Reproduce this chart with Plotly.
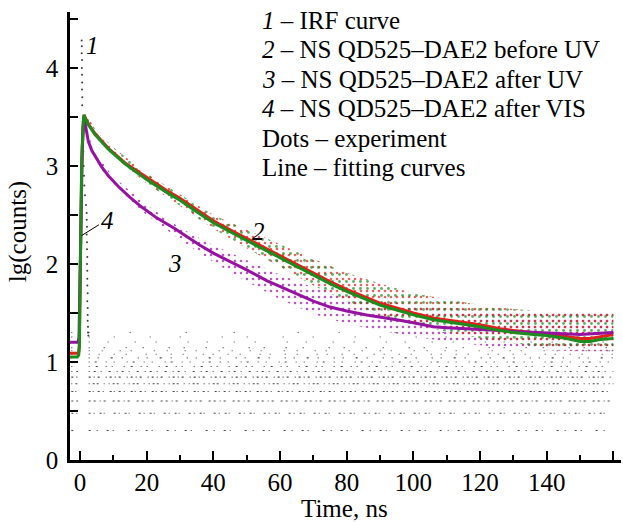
import numpy as np
import plotly.graph_objects as go

# ---------------- data ----------------
# fitting curves, lg(counts) vs time (ns)
t_before_uv = [-3, -0.8, -0.4, -0.2, 0.0, 0.2, 0.5, 0.9, 1.2, 1.6, 2.5, 4.5, 8.5, 13.5, 20, 26, 30, 36, 40, 46, 50,
               56, 60, 66, 70, 75, 80, 86, 90, 95, 100, 106, 110, 117, 120, 126, 130, 136, 140, 146, 150, 153, 156, 160]
lg_before_uv = [1.09, 1.09, 1.10, 1.17, 1.7, 2.4, 3.0, 3.4, 3.52, 3.49, 3.43, 3.33, 3.18, 3.03, 2.88, 2.75, 2.67,
                2.53, 2.44, 2.33, 2.26, 2.15, 2.08, 1.98, 1.91, 1.82, 1.74, 1.66, 1.60, 1.55, 1.50, 1.45, 1.43,
                1.40, 1.38, 1.34, 1.32, 1.30, 1.29, 1.26, 1.24, 1.24, 1.26, 1.28]

t_after_vis = [-3, -0.8, -0.4, -0.2, 0.0, 0.2, 0.5, 0.9, 1.2, 1.6, 2.5, 4.5, 8.5, 13.5, 20, 26, 30, 36, 40, 46, 50,
               56, 60, 66, 70, 75, 80, 86, 90, 95, 100, 106, 110, 117, 120, 126, 130, 136, 140, 146, 150, 153, 156, 160]
lg_after_vis = [1.05, 1.05, 1.07, 1.15, 1.7, 2.4, 3.0, 3.4, 3.52, 3.48, 3.42, 3.32, 3.17, 3.02, 2.86, 2.73, 2.65,
                2.51, 2.42, 2.31, 2.24, 2.13, 2.06, 1.96, 1.89, 1.80, 1.72, 1.64, 1.58, 1.53, 1.48, 1.43, 1.41,
                1.38, 1.36, 1.32, 1.30, 1.28, 1.27, 1.24, 1.21, 1.21, 1.23, 1.24]

t_after_uv = [-3, -0.6, -0.3, 0.0, 0.3, 0.7, 1.2, 1.6, 2.0, 2.5, 3.5, 5, 6.5, 8.5, 11.5, 15, 18.5, 23, 28.5, 32, 36,
              40, 46, 50, 56, 60, 66, 70, 75, 80, 86, 90, 95, 100, 106, 110, 117, 120, 126, 130, 136, 140, 146, 150,
              155, 160]
lg_after_uv = [1.20, 1.20, 1.25, 1.8, 2.5, 3.2, 3.50, 3.42, 3.33, 3.25, 3.16, 3.07, 2.99, 2.90, 2.79, 2.68, 2.58,
               2.47, 2.36, 2.28, 2.19, 2.11, 2.01, 1.94, 1.83, 1.77, 1.68, 1.62, 1.56, 1.52, 1.48, 1.46, 1.43, 1.40,
               1.36, 1.35, 1.34, 1.33, 1.32, 1.31, 1.30, 1.30, 1.29, 1.28, 1.29, 1.30]

# experimental-dot clouds: upper / lower envelopes
t_dots_vis = [1.5, 5, 10, 20, 30, 40, 50, 60, 70, 80, 90, 100, 110, 120, 130, 140, 150, 160]
hi_dots_vis = [3.55, 3.35, 3.19, 2.92, 2.71, 2.50, 2.35, 2.20, 2.05, 1.91, 1.80, 1.70, 1.64, 1.58, 1.54, 1.51, 1.50, 1.50]
lo_dots_vis = [3.49, 3.28, 3.10, 2.82, 2.59, 2.36, 2.16, 1.97, 1.78, 1.62, 1.48, 1.38, 1.31, 1.24, 1.19, 1.15, 1.12, 1.12]

t_dots_uv = [1.5, 3, 5, 10, 20, 30, 40, 50, 60, 70, 80, 90, 100, 110, 120, 130, 140, 150, 160]
hi_dots_uv = [3.48, 3.27, 3.11, 2.89, 2.60, 2.37, 2.19, 2.04, 1.89, 1.76, 1.68, 1.62, 1.58, 1.55, 1.53, 1.52, 1.51, 1.51, 1.51]
lo_dots_uv = [3.40, 3.18, 3.03, 2.80, 2.50, 2.25, 2.02, 1.82, 1.64, 1.49, 1.39, 1.32, 1.26, 1.21, 1.17, 1.14, 1.12, 1.11, 1.11]

# IRF (curve 1): spike points
t_irf = [0.5, 0.55, 0.5, 0.6, 0.55, 0.6, 0.65, 0.6, 0.7, 0.65, 0.8, 0.9, 1.0, 1.1, 1.2, 1.3, 1.5, 1.8, 2.0, 2.0, 2.1,
         2.0, 2.1, 2.1, 2.2, 2.1, 2.2, 2.2, 2.2, 2.3, 2.2, 2.3, 2.3, 2.3, 2.4, 2.4, 2.5]
lg_irf = [4.28, 4.22, 4.15, 4.08, 4.00, 3.93, 3.85, 3.78, 3.70, 3.62, 3.45, 3.30, 3.15, 3.00, 2.90, 2.80, 2.70, 2.60,
          2.52, 2.45, 2.38, 2.30, 2.22, 2.15, 2.07, 2.00, 1.93, 1.85, 1.78, 1.70, 1.62, 1.55, 1.48, 1.42, 1.36, 1.30,
          1.27]
# IRF noise floor: photon-count levels that show up as rows of dots
floor_counts = [2, 3, 4, 5, 6, 7, 8, 9, 10, 11, 12, 13, 14, 16, 18, 20]

x_tick_vals = [0, 20, 40, 60, 80, 100, 120, 140, 160]
x_tick_text = ["0", "20", "40", "60", "80", "100", "120", "140", ""]
y_tick_vals = [0, 1, 2, 3, 4]

legend_lines = ["<i>1</i> – IRF curve",
                "<i>2</i> – NS QD525–DAE2 before UV",
                "<i>3</i> – NS QD525–DAE2 after UV",
                "<i>4</i> – NS QD525–DAE2 after VIS",
                "Dots – experiment",
                "Line – fitting curves"]

# ---------------- styles ----------------
FONT = "Liberation Serif"
FS = 25
RED = "rgb(226,32,28)"
GREEN = "rgb(28,140,28)"
PURPLE = "rgb(150,18,160)"
floor_dashes = ["2px,6px,1px,9px,2px,4px,1px,14px", "2px,3px,1px,5px,2px,2px,1px,9px",
                "2px,3px,2px,4px,1px,3px,2px,7px", "2px,2px,1px,4px,2px,3px,1px,6px",
                "1px,3px,2px,2px,2px,5px,1px,4px", "2px,3px,1px,3px,2px,6px,1px,3px",
                "1px,4px,2px,5px,1px,7px,2px,6px", "1px,6px,2px,8px,1px,5px,1px,11px",
                "1px,5px,2px,9px,1px,7px,1px,12px", "1px,8px,1px,12px,2px,9px,1px,15px",
                "1px,9px,1px,14px,1px,11px,1px,19px", "1px,12px,1px,17px,1px,10px,1px,22px",
                "1px,14px,1px,21px,1px,16px,1px,25px", "1px,18px,1px,26px,1px,20px,1px,31px",
                "1px,24px,1px,35px,1px,29px,1px,41px", "1px,40px,1px,55px,1px,47px,1px,63px"]

fig = go.Figure()

# noise-floor rows of the IRF
for cnt, dash in zip(floor_counts, floor_dashes):
    lv = float(np.log10(cnt))
    fig.add_trace(go.Scatter(x=[-2.6, -0.6, None, 2.6, 160], y=[lv, lv, None, lv, lv], mode="lines",
                             line=dict(color="rgba(40,40,40,0.85)", width=1.1, dash=dash),
                             hoverinfo="skip", showlegend=False, connectgaps=False))

# IRF spike
fig.add_trace(go.Scatter(x=t_irf, y=lg_irf, mode="markers",
                         marker=dict(color="rgba(40,40,40,0.9)", size=2), showlegend=False))


def add_cloud(tx, lo, hi, color, size, solidity, op):
    fig.add_trace(go.Scatter(x=tx, y=lo, mode="lines", line=dict(width=0, color="rgba(0,0,0,0)"),
                             showlegend=False, hoverinfo="skip"))
    fig.add_trace(go.Scatter(x=tx, y=hi, mode="lines", line=dict(width=0, color="rgba(0,0,0,0)"),
                             fill="tonexty", fillcolor="rgba(0,0,0,0)",
                             fillpattern=dict(shape=".", size=size, solidity=solidity, fgcolor=color,
                                              bgcolor="rgba(0,0,0,0)", fgopacity=op),
                             showlegend=False, hoverinfo="skip"))


add_cloud(t_dots_uv, lo_dots_uv, hi_dots_uv, PURPLE, 6, 0.15, 0.7)
add_cloud(t_dots_vis, lo_dots_vis, hi_dots_vis, RED, 6, 0.15, 0.7)
add_cloud(t_dots_vis, lo_dots_vis, hi_dots_vis, GREEN, 7, 0.13, 0.7)

# fitting curves
fig.add_trace(go.Scatter(x=t_before_uv, y=lg_before_uv, mode="lines", line=dict(color=RED, width=3),
                         showlegend=False))
fig.add_trace(go.Scatter(x=t_after_uv, y=lg_after_uv, mode="lines", line=dict(color=PURPLE, width=3),
                         showlegend=False))
fig.add_trace(go.Scatter(x=t_after_vis, y=lg_after_vis, mode="lines", line=dict(color=GREEN, width=3),
                         showlegend=False))

# leader line for label 4
fig.add_trace(go.Scatter(x=[0.5, 5.7], y=[2.29, 2.40], mode="lines", line=dict(color="black", width=1),
                         showlegend=False, hoverinfo="skip"))

annots = []
for txt, xx, yy in [("1", 3.6, 4.23), ("2", 53.4, 2.33), ("3", 28.5, 2.0), ("4", 8.1, 2.44)]:
    annots.append(dict(x=xx, y=yy, xref="x", yref="y", text="<i>%s</i>" % txt, showarrow=False,
                       font=dict(family=FONT, size=FS, color="black"), xanchor="center", yanchor="middle"))
for i, line in enumerate(legend_lines):
    annots.append(dict(x=54.0, y=4.487 - 0.301 * i, xref="x", yref="y", text=line, showarrow=False,
                       font=dict(family=FONT, size=FS, color="black"), xanchor="left", yanchor="middle"))
annots.append(dict(x=-0.095, y=0.51, xref="paper", yref="paper", text="lg(counts)", textangle=-90,
                   showarrow=False, font=dict(family=FONT, size=FS, color="black"),
                   xanchor="center", yanchor="middle"))
annots.append(dict(x=0.499, y=-0.108, xref="paper", yref="paper", text="Time, ns",
                   showarrow=False, font=dict(family=FONT, size=FS, color="black"),
                   xanchor="center", yanchor="middle"))

fig.update_layout(
    template="none",
    width=623, height=522, autosize=False,
    margin=dict(l=70, r=2, t=12, b=62),
    paper_bgcolor="white", plot_bgcolor="white",
    font=dict(family=FONT, size=FS, color="black"),
    annotations=annots,
    xaxis=dict(range=[-3, 162.3], automargin=False, showgrid=False, zeroline=False, showline=True,
               linecolor="black", linewidth=2.5, ticks="inside", ticklen=9, tickwidth=1.5, tickcolor="black",
               tickmode="array", tickvals=x_tick_vals, ticktext=x_tick_text, ticklabelstandoff=-2,
               tickfont=dict(family=FONT, size=FS, color="black"),
               minor=dict(tickmode="array", tickvals=[10, 30, 50, 70, 90, 110, 130, 150], ticklen=5.5,
                          tickwidth=1.5, tickcolor="black", ticks="inside", showgrid=False)),
    yaxis=dict(range=[0, 4.57], automargin=False, showgrid=False, zeroline=False, showline=True,
               linecolor="black", linewidth=2.5, ticks="inside", ticklen=8, tickwidth=1.5, tickcolor="black",
               tickmode="array", tickvals=y_tick_vals, ticktext=[str(v) for v in y_tick_vals],
               ticklabelstandoff=4,
               tickfont=dict(family=FONT, size=FS, color="black"),
               minor=dict(tickmode="array", tickvals=[0.5, 1.5, 2.5, 3.5, 4.5], ticklen=8,
                          tickwidth=1.5, tickcolor="black", ticks="inside", showgrid=False)),
)

fig.write_html("out.html", config={"displayModeBar": False},
               post_script="document.body.style.margin='0px';document.body.style.overflow='hidden';")
